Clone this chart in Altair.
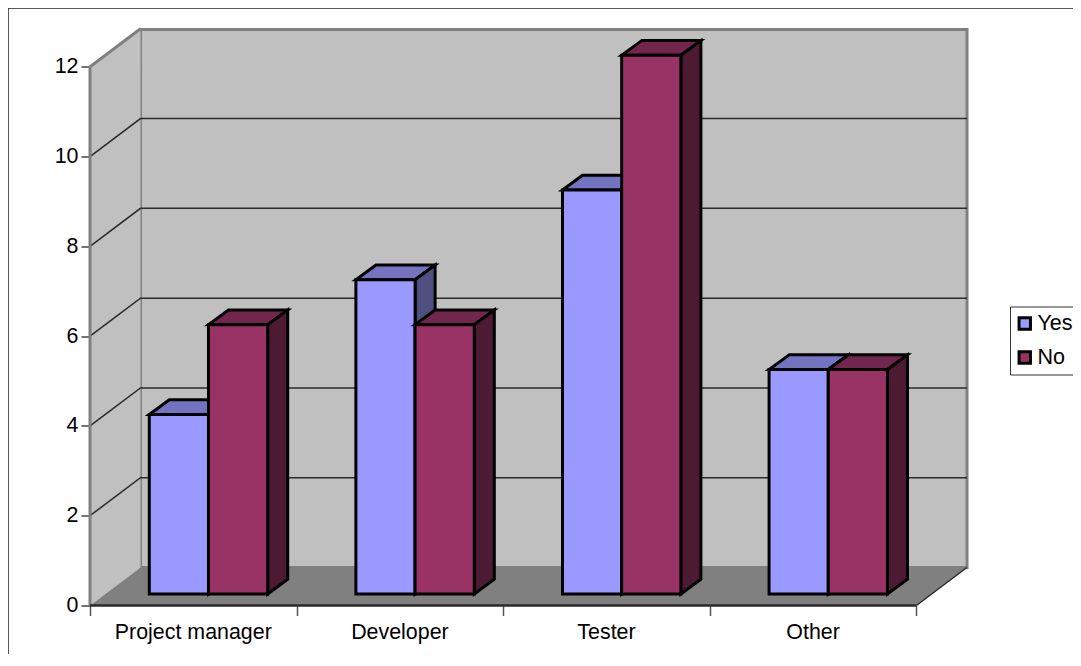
import altair as alt
import pandas as pd

categories = ["Project manager", "Developer", "Tester", "Other"]
yes_values = [4, 7, 9, 5]
no_values = [6, 6, 12, 5]
series_names = ["Yes", "No"]
y_ticks = [0, 2, 4, 6, 8, 10, 12]
x_ticks = [0, 1, 2, 3, 4]
grid_levels = [2, 4, 6, 8, 10]

# geometry, in axis units
DX, DY = 0.2444, 0.846            # depth of the box
BAR_X0, BAR_W = 0.287, 0.2865     # first bar offset, width of a bar
BASE_Y = 0.256                    # bar foot above the front edge
BAR_DX, BAR_DY = 0.097, 0.327     # depth of a bar
XMAX, YMAX = 4.245, 12.83
XFLOOR = 4.0

FONT = "Liberation Sans"
FS = 21.4
WALL = "#C0C0C0"
FLOOR = "#808080"
EDGE = "#808080"
LINE = "#2a2a2a"

sx = alt.Scale(domain=[0, XMAX], nice=False, zero=False)
sy = alt.Scale(domain=[0, YMAX], nice=False, zero=False)

x_axis = alt.Axis(values=x_ticks, labels=False, domain=False, grid=False, tickSize=10,
                  tickColor="#555555", tickWidth=1.5)
y_axis = alt.Axis(values=y_ticks, domain=False, grid=False, tickSize=9, tickColor="#444444",
                  tickWidth=1.5, labelFont=FONT, labelFontSize=FS, labelColor="black",
                  labelPadding=3)


def X(f):
    return alt.X(f, type="quantitative", scale=sx, title=None, axis=x_axis)


def Y(f):
    return alt.Y(f, type="quantitative", scale=sy, title=None, axis=y_axis)


# walls and floor
back = pd.DataFrame({"x": [DX], "x2": [XMAX], "y": [DY], "y2": [YMAX]})
left_wall = pd.DataFrame({"x": [0, DX], "y": [0, DY], "y2": [12, 12 + DY]})
floor = pd.DataFrame({"y": [0, DY], "x": [0, DX], "x2": [XFLOOR, XFLOOR + DX]})

layers = []
layers.append(
    alt.Chart(back).mark_rect(fill=WALL, stroke=EDGE, strokeWidth=3).encode(
        x=X("x"), x2="x2", y=Y("y"), y2="y2")
)
layers.append(
    alt.Chart(left_wall).mark_area(fill=WALL).encode(x=X("x"), y=Y("y"), y2="y2")
)
layers.append(
    alt.Chart(floor).mark_area(orient="horizontal", fill=FLOOR).encode(y=Y("y"), x=X("x"), x2="x2")
)

# grid lines running along the left wall and the back wall
grid_rows = []
for lvl in grid_levels:
    grid_rows += [
        {"k": lvl, "o": 0, "x": 0, "y": lvl},
        {"k": lvl, "o": 1, "x": DX, "y": lvl + DY},
        {"k": lvl, "o": 2, "x": XMAX, "y": lvl + DY},
    ]
layers.append(
    alt.Chart(pd.DataFrame(grid_rows)).mark_line(color=LINE, strokeWidth=1.5).encode(
        x=X("x"), y=Y("y"), detail="k:N", order="o:Q")
)

# grey edges of the left wall
edge_rows = [
    {"o": 0, "x": 0, "y": 0}, {"o": 1, "x": 0, "y": 12}, {"o": 2, "x": DX, "y": 12 + DY},
]
layers.append(
    alt.Chart(pd.DataFrame(edge_rows)).mark_line(color=EDGE, strokeWidth=3).encode(
        x=X("x"), y=Y("y"), order="o:Q")
)
# front edge and right diagonal of the floor
layers.append(
    alt.Chart(pd.DataFrame([{"o": 0, "x": 0, "y": 0}, {"o": 1, "x": XFLOOR, "y": 0}])).mark_line(
        color=LINE, strokeWidth=2.5).encode(x=X("x"), y=Y("y"), order="o:Q")
)
layers.append(
    alt.Chart(pd.DataFrame([{"o": 0, "x": XFLOOR, "y": 0}, {"o": 1, "x": XFLOOR + DX, "y": DY}])).mark_line(
        color=LINE, strokeWidth=1.5).encode(x=X("x"), y=Y("y"), order="o:Q")
)

color = alt.Color(
    "series:N",
    scale=alt.Scale(domain=series_names, range=["#9999FF", "#993366"]),
    legend=alt.Legend(
        title=None, orient="none", legendX=920, legendY=277, fillColor="white",
        strokeColor="#333333", padding=0, labelFont=FONT, labelFontSize=21.5, labelColor="black",
        symbolType="square", symbolSize=130, symbolStrokeColor="black", symbolStrokeWidth=3,
        rowPadding=0, clipHeight=34, labelOffset=2, symbolOffset=4, labelLimit=200, offset=0,
    ),
)

series = [
    ("Yes", yes_values, 0, "#7373BF", "#4F4F80"),
    ("No", no_values, 1, "#73264D", "#4D1A33"),
]
STROKE = dict(stroke="black", strokeWidth=3, strokeJoin="miter")
for name, values, idx, top_c, side_c in series:
    top, side, front = [], [], []
    for i, v in enumerate(values):
        x0 = i + BAR_X0 + idx * BAR_W
        x1 = x0 + BAR_W
        y0 = BASE_Y
        y1 = BASE_Y + v
        top += [
            {"b": i, "y": y1, "x": x0, "x2": x1},
            {"b": i, "y": y1 + BAR_DY, "x": x0 + BAR_DX, "x2": x1 + BAR_DX},
        ]
        side += [
            {"b": i, "x": x1, "y": y0, "y2": y1},
            {"b": i, "x": x1 + BAR_DX, "y": y0 + BAR_DY, "y2": y1 + BAR_DY},
        ]
        front.append({"series": name, "x": x0, "x2": x1, "y": y0, "y2": y1})
    layers.append(
        alt.Chart(pd.DataFrame(top)).mark_area(orient="horizontal", fill=top_c, **STROKE).encode(
            y=Y("y"), x=X("x"), x2="x2", detail="b:N")
    )
    layers.append(
        alt.Chart(pd.DataFrame(side)).mark_area(fill=side_c, **STROKE).encode(
            x=X("x"), y=Y("y"), y2="y2", detail="b:N")
    )
    layers.append(
        alt.Chart(pd.DataFrame(front)).mark_rect(**STROKE).encode(
            x=X("x"), x2="x2", y=Y("y"), y2="y2", color=color)
    )

# category labels
labels = pd.DataFrame({"c": categories, "x": [i + 0.5 for i in range(len(categories))], "y": [0] * 4})
layers.append(
    alt.Chart(labels).mark_text(font=FONT, fontSize=FS, color="black", baseline="middle", dy=27).encode(
        x=X("x"), y=Y("y"), text="c:N")
)

# outer frame of the picture
layers.append(
    alt.Chart(pd.DataFrame({"a": [0]})).mark_rule(color="#222222", strokeWidth=1.5).encode(
        x=alt.value(-82), y=alt.value(-21.5), y2=alt.value(650))
)
layers.append(
    alt.Chart(pd.DataFrame({"a": [0]})).mark_rule(color="#222222", strokeWidth=1.5).encode(
        x=alt.value(-82), x2=alt.value(1000), y=alt.value(-21.5))
)

chart = (
    alt.layer(*layers)
    .properties(
        width=877, height=576,
        autosize=alt.AutoSizeParams(type="none"),
        padding={"left": 82, "top": 21.5, "right": 106, "bottom": 48},
        background="white",
    )
    .configure_view(stroke=None)
)
chart.save("out.html", embed_options={"renderer": "svg", "actions": False})
